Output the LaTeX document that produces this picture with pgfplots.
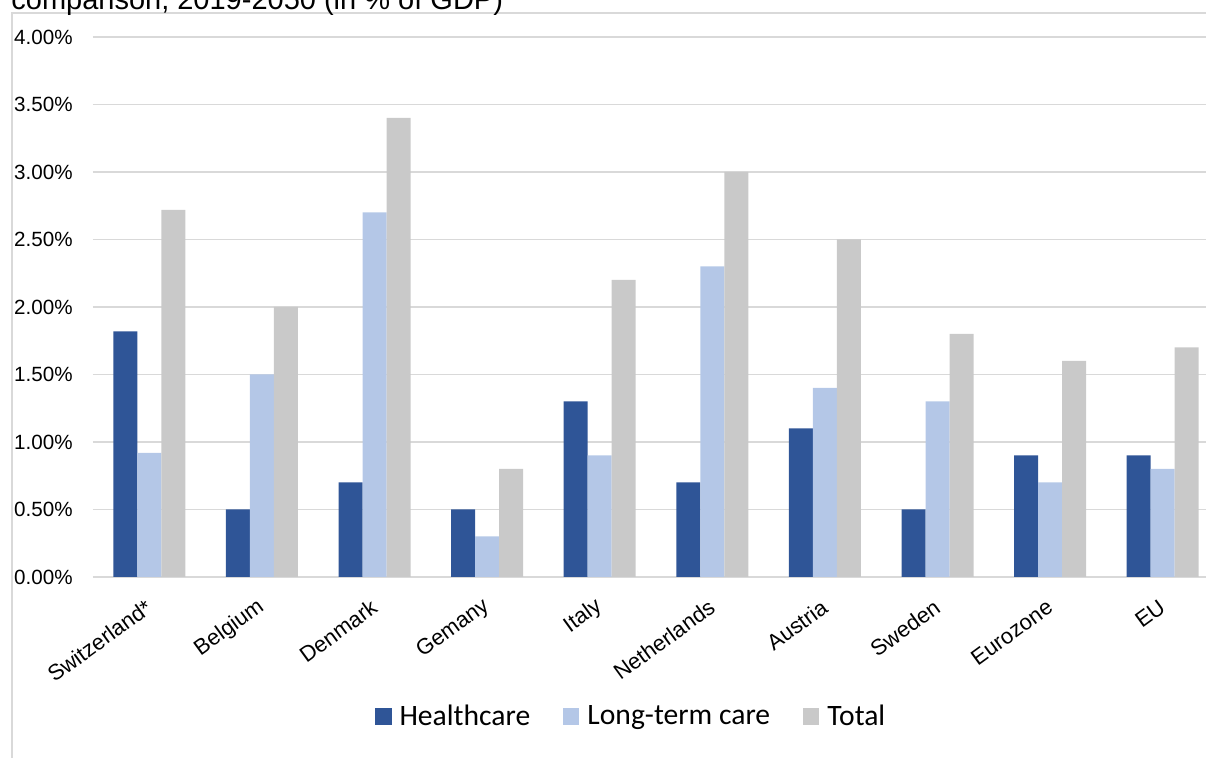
\documentclass[border=0pt]{standalone}
\usepackage{fontspec}
\setmainfont{Liberation Sans}
\newfontfamily\legfont{Carlito}
\usepackage{pgfplots}
\usepackage{pgfplotstable}
\pgfplotsset{compat=1.18}
\definecolor{hc}{RGB}{47,85,151}
\definecolor{ltc}{RGB}{180,199,231}
\definecolor{tot}{RGB}{201,201,201}
\definecolor{gridc}{RGB}{217,217,217}

\pgfplotstableread{
x hc ltc tot
0 1.82 0.92 2.72
1 0.50 1.50 2.00
2 0.70 2.70 3.40
3 0.50 0.30 0.80
4 1.30 0.90 2.20
5 0.70 2.30 3.00
6 1.10 1.40 2.50
7 0.50 1.30 1.80
8 0.90 0.70 1.60
9 0.90 0.80 1.70
}\datatable

\begin{document}
\begin{tikzpicture}
\draw[gridc, line width=0.6pt] (6pt,0pt) -- (6pt,372.5pt) -- (610pt,372.5pt);
\node[anchor=base west, inner sep=0pt, font=\fontsize{14.5pt}{17pt}\selectfont] at (5.5pt,374pt) {comparison, 2019-2050 (in \% of GDP)};
\begin{axis}[
 scale only axis, width=563pt, height=270pt,
 at={(46.5pt,90.5pt)}, anchor=south west,
 xmin=-0.5, xmax=9.5, ymin=0, ymax=4,
 ybar=0pt, bar width=12pt,
 axis line style={draw=none},
 tick style={draw=none},
 ymajorgrids, grid style={gridc, line width=0.75pt},
 ytick={0,0.5,1,1.5,2,2.5,3,3.5,4},
 yticklabel={\pgfmathprintnumber[fixed,fixed zerofill,precision=2,assume math mode=true]{\tick}\%},
 y tick label style={font=\fontsize{10.3pt}{12pt}\selectfont, anchor=east, inner sep=0pt, xshift=-10pt},
 xtick={0,1,2,3,4,5,6,7,8,9},
 xticklabels={Switzerland*,Belgium,Denmark,Gemany,Italy,Netherlands,Austria,Sweden,Eurozone,EU},
 x tick label style={font=\fontsize{11pt}{13pt}\selectfont, xshift=0pt, yshift=-9.5pt, rotate=36, anchor=east, inner sep=0pt},
 legend columns=-1,
 legend style={at={(0.4787,-0.259)}, anchor=center, draw=none, fill=none,
   font=\legfont\fontsize{14.8pt}{17pt}\selectfont,
   /tikz/every even column/.append style={column sep=14.2pt},
   /tikz/every odd column/.append style={column sep=2pt}},
 legend image code/.code={\fill[#1] (0pt,-4.2pt) rectangle (8.4pt,4.2pt);},
]
\addplot[fill=hc, draw=none] table[x=x,y=hc] {\datatable};
\addlegendentry{Healthcare}
\addplot[fill=ltc, draw=none] table[x=x,y=ltc] {\datatable};
\addlegendentry{Long-term care}
\addplot[fill=tot, draw=none] table[x=x,y=tot] {\datatable};
\addlegendentry{Total}
\end{axis}
\pgfresetboundingbox
\useasboundingbox (0pt,0pt) rectangle (603pt,379pt);
\end{tikzpicture}
\end{document}
